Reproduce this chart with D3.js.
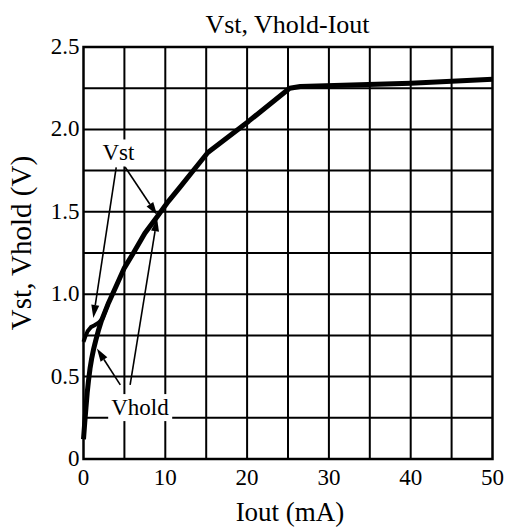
<!DOCTYPE html>
<html><head><meta charset="utf-8">
<script src="https://cdn.jsdelivr.net/npm/d3@7"></script>
<style>body{margin:0;background:#fff}</style>
</head><body>
<svg id="c" width="508" height="529"></svg>
<script>
// Data
const vstCurrent = [0, 0.2, 0.5, 0.9, 1.3, 1.8, 2.3, 3.0];
const vstVoltage = [0.71, 0.74, 0.775, 0.80, 0.81, 0.825, 0.85, 0.94];
const vholdCurrent = [0, 0.15, 0.3, 0.45, 0.6, 0.8, 1.0, 1.25, 1.5, 1.85, 2.2, 2.6, 3.0, 4.0, 5.0, 6.1, 7.5, 9.0, 10.4, 11.8, 13.5, 15.2, 20.2, 25.2, 26.5, 40, 50];
const vholdVoltage = [0.12, 0.22, 0.31, 0.40, 0.47, 0.55, 0.61, 0.67, 0.72, 0.785, 0.84, 0.89, 0.94, 1.05, 1.16, 1.25, 1.37, 1.47, 1.565, 1.65, 1.755, 1.86, 2.05, 2.25, 2.26, 2.28, 2.305];
const xTicks = [0, 10, 20, 30, 40, 50];
const yTicks = [0, 0.5, 1.0, 1.5, 2.0, 2.5];
const yTickLabels = ["0", "0.5", "1.0", "1.5", "2.0", "2.5"];
const xGrid = [5, 10, 15, 20, 25, 30, 35, 40, 45];
const yGrid = [0.25, 0.5, 0.75, 1.0, 1.25, 1.5, 1.75, 2.0, 2.25];
const labels = [{text: "Vst", x: 4.27, y: 1.86}, {text: "Vhold", x: 6.9, y: 0.315}];
const arrows = [
  {x1: 4.0, y1: 1.77, x2: 1.2, y2: 0.856},
  {x1: 5.1, y1: 1.77, x2: 9.0, y2: 1.48},
  {x1: 4.5, y1: 0.45, x2: 1.64, y2: 0.67},
  {x1: 5.7, y1: 0.45, x2: 9.0, y2: 1.46}
];

const svg = d3.select("#c");
const font = "Liberation Serif, Times New Roman, serif";
const x = d3.scaleLinear().domain([0, 50]).range([83.5, 492.5]);
const y = d3.scaleLinear().domain([0, 2.5]).range([459, 47]);

// grid
svg.append("g").selectAll("line").data(xGrid).join("line")
  .attr("x1", d => x(d)).attr("x2", d => x(d)).attr("y1", y(0)).attr("y2", y(2.5))
  .attr("stroke", "#000").attr("stroke-width", 2);
svg.append("g").selectAll("line").data(yGrid).join("line")
  .attr("x1", x(0)).attr("x2", x(50)).attr("y1", d => y(d)).attr("y2", d => y(d))
  .attr("stroke", "#000").attr("stroke-width", 2);

// frame
svg.append("rect").attr("x", x(0)).attr("y", y(2.5)).attr("width", x(50) - x(0)).attr("height", y(0) - y(2.5))
  .attr("fill", "none").attr("stroke", "#000").attr("stroke-width", 2.5);

// tick labels
svg.append("g").selectAll("text").data(xTicks).join("text")
  .attr("x", d => x(d)).attr("y", y(0) + 26).attr("text-anchor", "middle")
  .attr("font-family", font).attr("font-size", 23).text(d => d);
svg.append("g").selectAll("text").data(yTicks).join("text")
  .attr("x", x(0) - 4)
  .attr("y", d => y(d) + 7).attr("text-anchor", "end")
  .attr("font-family", font).attr("font-size", 23).text((d, i) => yTickLabels[i]);

// titles
svg.append("text").attr("x", 287.5).attr("y", 33).attr("text-anchor", "middle")
  .attr("font-family", font).attr("font-size", 26).text("Vst, Vhold-Iout");
svg.append("text").attr("x", 290).attr("y", 521).attr("text-anchor", "middle")
  .attr("font-family", font).attr("font-size", 27).text("Iout (mA)");
svg.append("text").attr("transform", "translate(31,243) rotate(-90)").attr("text-anchor", "middle")
  .attr("font-family", font).attr("font-size", 29).text("Vst, Vhold (V)");

// curves
const line = d3.line().x(d => x(d[0])).y(d => y(d[1])).curve(d3.curveLinear);
const vhold = vholdCurrent.map((c, i) => [c, vholdVoltage[i]]);
const vst = vstCurrent.map((c, i) => [c, vstVoltage[i]]);
svg.append("path").attr("d", line(vhold)).attr("fill", "none").attr("stroke", "#000").attr("stroke-width", 5).attr("stroke-linejoin", "round");
svg.append("path").attr("d", line(vst)).attr("fill", "none").attr("stroke", "#000").attr("stroke-width", 4).attr("stroke-linejoin", "round");

// labels with white background
labels.forEach(l => {
  const g = svg.append("g");
  const r = g.append("rect").attr("fill", "#fff");
  const t = g.append("text").attr("x", x(l.x)).attr("y", y(l.y) + 8).attr("text-anchor", "middle")
    .attr("font-family", font).attr("font-size", 23).text(l.text);
  const bb = t.node().getBBox();
  r.attr("x", bb.x - 3).attr("y", bb.y - 1).attr("width", bb.width + 6).attr("height", bb.height + 2);
});

// arrows
arrows.forEach(a => {
  const X1 = x(a.x1), Y1 = y(a.y1), X2 = x(a.x2), Y2 = y(a.y2);
  const ang = Math.atan2(Y2 - Y1, X2 - X1);
  const L = 13, W = 4;
  const bx = X2 - L * Math.cos(ang), by = Y2 - L * Math.sin(ang);
  svg.append("line").attr("x1", X1).attr("y1", Y1).attr("x2", bx).attr("y2", by)
    .attr("stroke", "#000").attr("stroke-width", 1.6);
  const p = [[X2, Y2], [bx + W * Math.sin(ang), by - W * Math.cos(ang)], [bx - W * Math.sin(ang), by + W * Math.cos(ang)]];
  svg.append("polygon").attr("points", p.map(q => q.join(",")).join(" ")).attr("fill", "#000");
});
</script>
</body></html>
